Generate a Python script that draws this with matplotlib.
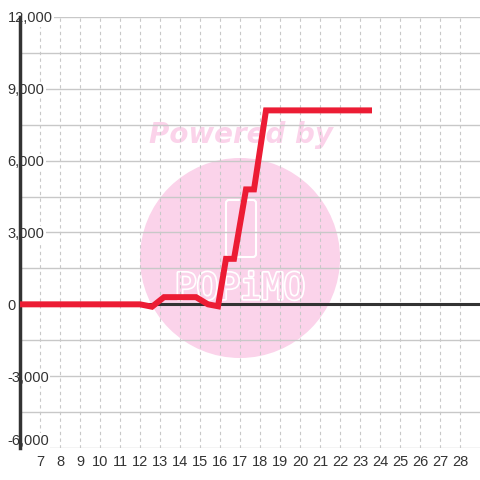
import matplotlib
matplotlib.use("Agg")
import matplotlib.pyplot as plt
import matplotlib.patheffects as pe
from matplotlib.patches import Circle, FancyBboxPatch

# data
x_vals = [6, 12, 12.6, 13.2, 14.8, 15.4, 15.9, 16.3, 16.7, 17.3, 17.7, 18.3, 23.6]
y_vals = [0, 0, -100, 300, 300, 0, -80, 1900, 1900, 4800, 4800, 8100, 8100]
x_ticks = list(range(7, 29))
y_ticks = [-6000, -3000, 0, 3000, 6000, 9000, 12000]
y_labels = ["-6,000", "-3,000", "0", "3,000", "6,000", "9,000", "12,000"]

plt.rcParams['font.family'] = ['Liberation Sans', 'DejaVu Sans']

fig = plt.figure(figsize=(4.8, 4.8), dpi=100)
ax = fig.add_axes([20 / 480, 32 / 480, 460 / 480, 431 / 480])
ax.set_xlim(6, 29)
ax.set_ylim(-6000, 12000)

for s in ax.spines.values():
    s.set_visible(False)

# watermark (kept under the data line)
ax.add_patch(Circle((240, 480 - 258), 100, transform=None,
                    facecolor='#fbd3ea', edgecolor='none', zorder=0))
ax.text(241 / 480, 1 - 135 / 480, "Powered by", ha='center', va='center',
        fontsize=20, fontweight='bold', style='italic', color='#fbd3ea',
        family='DejaVu Sans', zorder=0.5, transform=fig.transFigure)
ax.add_patch(FancyBboxPatch((226, 480 - 257), 30, 57, transform=None,
                            boxstyle='round,pad=0,rounding_size=3',
                            facecolor='none', edgecolor='white', lw=1.5, zorder=0.5))
ax.text(240 / 480, 1 - 289 / 480, "POPiMO", ha='center', va='center',
        fontsize=26, color='#fbd3ea', family='DejaVu Sans Mono', zorder=0.5,
        transform=fig.transFigure,
        path_effects=[pe.withStroke(linewidth=2.5, foreground='white')])

# grid
ax.set_xticks(x_ticks)
ax.set_xticklabels([str(t) for t in x_ticks])
ax.set_yticks(y_ticks)
ax.set_yticklabels(y_labels)
ax.set_yticks(range(-6000, 12001, 1500), minor=True)
ax.grid(axis='y', which='both', color='#c8c8c8', lw=1, zorder=1)
ax.grid(axis='x', which='major', color='#c8c8c8', lw=0.8, ls=(0, (3, 3)), zorder=1)
ax.set_axisbelow(True)

ax.tick_params(axis='both', which='both', length=0, colors='#333333', labelsize=10.5)
ax.tick_params(axis='x', pad=5)
ax.tick_params(axis='y', pad=9)
ylabs = ax.get_yticklabels()
for lab in ylabs:
    lab.set_horizontalalignment('left')
    lab.set_bbox(dict(facecolor='white', edgecolor='none', pad=0.8))
ylabs[0].set_verticalalignment('bottom')

# axis lines
ax.axvline(6, color='#333333', lw=2.5, zorder=2, clip_on=False)
ax.axhline(0, color='#333333', lw=2.2, zorder=2)

ax.plot(x_vals, y_vals, color='#ec1c34', lw=4.3, zorder=3,
        solid_joinstyle='miter', solid_capstyle='butt')

fig.savefig("out.png", dpi=100)
